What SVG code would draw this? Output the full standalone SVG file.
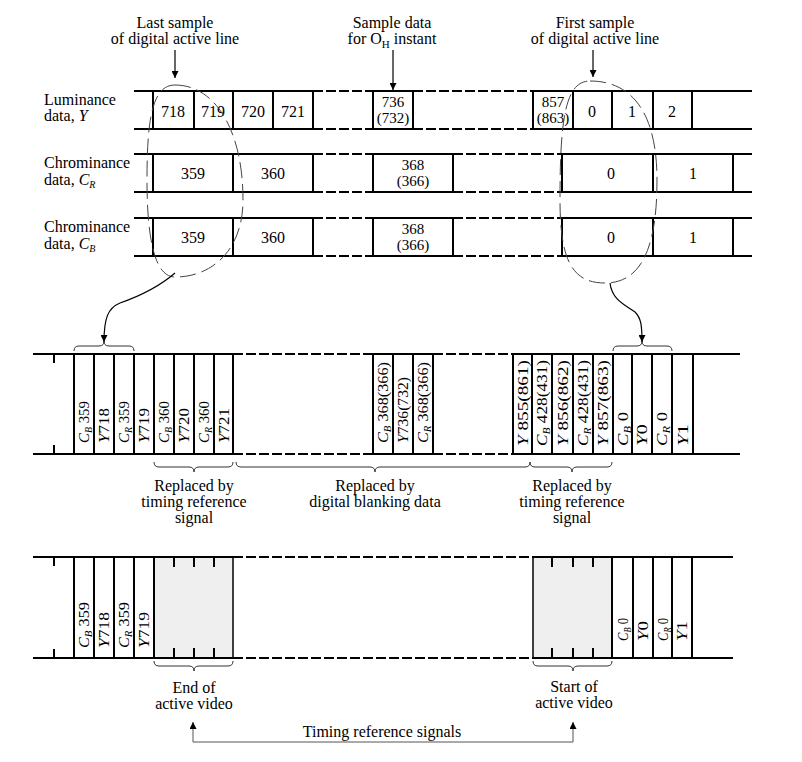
<svg xmlns="http://www.w3.org/2000/svg" width="802" height="762" viewBox="0 0 802 762">
<defs>
<style>
.ln{stroke:#000;stroke-width:2;fill:none}
.dl{stroke:#000;stroke-width:2;stroke-dasharray:10 3;fill:none}
.el{stroke:#444;stroke-width:1;stroke-dasharray:16 6;fill:none}
.br{stroke:#333;stroke-width:1;fill:none}
.cn{stroke:#000;stroke-width:1.2;fill:none}
.gl{stroke:#555;stroke-width:1;fill:none}
.t{font-family:"Liberation Serif","Times New Roman",serif;font-size:16px;fill:#000}
.c{text-anchor:middle}
.r{font-size:15px}
.n{font-size:15px}
.i{font-style:italic}
.s{font-size:10px;font-style:italic}
.box{fill:#efefef;stroke:#000;stroke-width:1.5}
</style>
<marker id="ah" viewBox="0 0 10 10" refX="10" refY="5" markerWidth="9" markerHeight="7" markerUnits="userSpaceOnUse" orient="auto">
<path d="M0,0 L10,5 L0,10 Z" fill="#000"/>
</marker>
</defs>
<rect width="802" height="762" fill="#fff"/>

<g id="labels-top">
<text class="t c" x="175" y="28">Last sample</text>
<text class="t c" x="175" y="44">of digital active line</text>
<text class="t c" x="392" y="28">Sample data</text>
<text class="t c" x="392" y="44">for O<tspan font-size="11" dy="4">H</tspan><tspan dy="-4"> instant</tspan></text>
<text class="t c" x="595" y="28">First sample</text>
<text class="t c" x="595" y="44">of digital active line</text>
</g>

<g id="row-y">
<text class="t" x="44" y="105">Luminance</text>
<text class="t" x="44" y="121">data, <tspan class="i">Y</tspan></text>
<path class="ln" d="M134,91 H313 M373,91 H413 M533,91 H752 M134,129 H313 M373,129 H413 M533,129 H752"/>
<path class="dl" d="M313,91 H373 M413,91 H533 M313,129 H373 M413,129 H533"/>
<path class="ln" d="M153,91 V129 M194,91 V129 M233,91 V129 M273,91 V129 M313,91 V129 M373,91 V129 M413,91 V129 M533,91 V129 M573,91 V129 M612,91 V129 M653,91 V129 M692,91 V129"/>
<text class="t c" x="173" y="117">718</text>
<text class="t c" x="213" y="117">719</text>
<text class="t c" x="253" y="117">720</text>
<text class="t c" x="293" y="117">721</text>
<text class="t c n" x="393" y="107">736</text>
<text class="t c n" x="393" y="123">(732)</text>
<text class="t c n" x="553" y="107">857</text>
<text class="t c n" x="553" y="123">(863)</text>
<text class="t c" x="592" y="117">0</text>
<text class="t c" x="632" y="117">1</text>
<text class="t c" x="672" y="117">2</text>
</g>

<g id="row-cr">
<text class="t" x="44" y="168">Chrominance</text>
<text class="t" x="44" y="185">data, <tspan class="i">C</tspan><tspan class="s" dy="3">R</tspan></text>
<path class="ln" d="M134,154 H313 M373,154 H453 M562,154 H752 M134,192 H313 M373,192 H453 M562,192 H752"/>
<path class="dl" d="M313,154 H373 M453,154 H562 M313,192 H373 M453,192 H562"/>
<path class="ln" d="M153,154 V192 M233,154 V192 M313,154 V192 M373,154 V192 M453,154 V192 M562,154 V192 M653,154 V192 M733,154 V192"/>
<text class="t c" x="193" y="179">359</text>
<text class="t c" x="273" y="179">360</text>
<text class="t c n" x="413" y="170">368</text>
<text class="t c n" x="413" y="186">(366)</text>
<text class="t c" x="611" y="179">0</text>
<text class="t c" x="693" y="179">1</text>
</g>

<g id="row-cb">
<text class="t" x="44" y="232">Chrominance</text>
<text class="t" x="44" y="249">data, <tspan class="i">C</tspan><tspan class="s" dy="3">B</tspan></text>
<path class="ln" d="M134,218 H313 M373,218 H453 M562,218 H752 M134,256 H313 M373,256 H453 M562,256 H752"/>
<path class="dl" d="M313,218 H373 M453,218 H562 M313,256 H373 M453,256 H562"/>
<path class="ln" d="M153,218 V256 M233,218 V256 M313,218 V256 M373,218 V256 M453,218 V256 M562,218 V256 M653,218 V256 M733,218 V256"/>
<text class="t c" x="193" y="243">359</text>
<text class="t c" x="273" y="243">360</text>
<text class="t c n" x="413" y="234">368</text>
<text class="t c n" x="413" y="250">(366)</text>
<text class="t c" x="611" y="243">0</text>
<text class="t c" x="693" y="243">1</text>
</g>

<g id="ellipses">
<path class="el" d="M175,85 C215,85 243,130 243,200 C243,250 212,277 175,277 C155,277 147,240 147,180 C147,120 152,85 175,85 Z"/>
<path class="el" d="M590,81 C630,81 657,110 657,180 C657,240 645,283 605,283 C572,283 560,260 560,200 C560,120 565,81 590,81 Z"/>
</g>

<g id="strip-mid">
<path class="ln" d="M33,354 H233 M373,354 H433 M513,354 H740 M33,454 H233 M373,454 H433 M513,454 H740"/>
<path class="dl" d="M233,354 H373 M433,354 H513 M233,454 H373 M433,454 H513"/>
<path class="ln" d="M54,354 V363 M54,445 V454 M74,354 V454 M94,354 V454 M114,354 V454 M134,354 V454 M154,354 V454 M174,354 V454 M194,354 V454 M214,354 V454 M233,354 V454 M373,354 V454 M393,354 V454 M413,354 V454 M433,354 V454 M513,354 V454 M532,354 V454 M552,354 V454 M573,354 V454 M593,354 V454 M613,354 V454 M632,354 V454 M652,354 V454 M672,354 V454 M693,354 V454"/>
<text class="t r" transform="translate(89,443) rotate(-90)" textLength="42" lengthAdjust="spacingAndGlyphs"><tspan class="i">C</tspan><tspan class="s" dy="3">B</tspan><tspan dy="-3"> 359</tspan></text>
<text class="t r" transform="translate(109,443) rotate(-90)" textLength="35" lengthAdjust="spacingAndGlyphs"><tspan class="i">Y</tspan>718</text>
<text class="t r" transform="translate(129,443) rotate(-90)" textLength="42" lengthAdjust="spacingAndGlyphs"><tspan class="i">C</tspan><tspan class="s" dy="3">R</tspan><tspan dy="-3"> 359</tspan></text>
<text class="t r" transform="translate(149,443) rotate(-90)" textLength="35" lengthAdjust="spacingAndGlyphs"><tspan class="i">Y</tspan>719</text>
<text class="t r" transform="translate(169,443) rotate(-90)" textLength="42" lengthAdjust="spacingAndGlyphs"><tspan class="i">C</tspan><tspan class="s" dy="3">B</tspan><tspan dy="-3"> 360</tspan></text>
<text class="t r" transform="translate(189,443) rotate(-90)" textLength="35" lengthAdjust="spacingAndGlyphs"><tspan class="i">Y</tspan>720</text>
<text class="t r" transform="translate(209,443) rotate(-90)" textLength="42" lengthAdjust="spacingAndGlyphs"><tspan class="i">C</tspan><tspan class="s" dy="3">R</tspan><tspan dy="-3"> 360</tspan></text>
<text class="t r" transform="translate(229,443) rotate(-90)" textLength="35" lengthAdjust="spacingAndGlyphs"><tspan class="i">Y</tspan>721</text>
<text class="t r" transform="translate(388,443) rotate(-90)" textLength="81" lengthAdjust="spacingAndGlyphs"><tspan class="i">C</tspan><tspan class="s" dy="3">B</tspan><tspan dy="-3"> 368(366)</tspan></text>
<text class="t r" transform="translate(408,443) rotate(-90)" textLength="66" lengthAdjust="spacingAndGlyphs"><tspan class="i">Y</tspan>736(732)</text>
<text class="t r" transform="translate(428,443) rotate(-90)" textLength="81" lengthAdjust="spacingAndGlyphs"><tspan class="i">C</tspan><tspan class="s" dy="3">R</tspan><tspan dy="-3"> 368(366)</tspan></text>
<text class="t r" transform="translate(527.5,446) rotate(-90)" textLength="86" lengthAdjust="spacingAndGlyphs"><tspan class="i">Y</tspan> 855(861)</text>
<text class="t r" transform="translate(547,446) rotate(-90)" textLength="86" lengthAdjust="spacingAndGlyphs"><tspan class="i">C</tspan><tspan class="s" dy="3">B</tspan><tspan dy="-3"> 428(431)</tspan></text>
<text class="t r" transform="translate(567.5,446) rotate(-90)" textLength="86" lengthAdjust="spacingAndGlyphs"><tspan class="i">Y</tspan> 856(862)</text>
<text class="t r" transform="translate(588,446) rotate(-90)" textLength="86" lengthAdjust="spacingAndGlyphs"><tspan class="i">C</tspan><tspan class="s" dy="3">R</tspan><tspan dy="-3"> 428(431)</tspan></text>
<text class="t r" transform="translate(608,446) rotate(-90)" textLength="86" lengthAdjust="spacingAndGlyphs"><tspan class="i">Y</tspan> 857(863)</text>
<text class="t r" transform="translate(627.5,446) rotate(-90)" textLength="34" lengthAdjust="spacingAndGlyphs"><tspan class="i">C</tspan><tspan class="s" dy="3">B</tspan><tspan dy="-3"> 0</tspan></text>
<text class="t r" transform="translate(647,446) rotate(-90)" textLength="22" lengthAdjust="spacingAndGlyphs"><tspan class="i">Y</tspan>0</text>
<text class="t r" transform="translate(667,446) rotate(-90)" textLength="34" lengthAdjust="spacingAndGlyphs"><tspan class="i">C</tspan><tspan class="s" dy="3">R</tspan><tspan dy="-3"> 0</tspan></text>
<text class="t r" transform="translate(687.5,446) rotate(-90)" textLength="22" lengthAdjust="spacingAndGlyphs"><tspan class="i">Y</tspan>1</text>
</g>

<g id="braces-mid">
<path class="br" d="M74,351 Q74,346 79,346 L99,346 Q104,346 104,341 Q104,346 109,346 L129,346 Q134,346 134,351"/>
<path class="br" d="M613,351 Q613,346 618,346 L637,346 Q642,346 642,341 Q642,346 647,346 L667,346 Q672,346 672,351"/>
<path class="br" d="M154,462 Q154,467 159,467 L189,467 Q194,467 194,472 Q194,467 199,467 L228,467 Q233,467 233,462"/>
<path class="br" d="M236,462 Q236,467 241,467 L370,467 Q375,467 375,472 Q375,467 380,467 L525,467 Q530,467 530,462"/>
<path class="br" d="M530,462 Q530,467 535,467 L567,467 Q572,467 572,472 Q572,467 577,467 L607,467 Q612,467 612,462"/>
<text class="t c" x="194" y="491">Replaced by</text>
<text class="t c" x="194" y="507">timing reference</text>
<text class="t c" x="194" y="523">signal</text>
<text class="t c" x="375" y="491">Replaced by</text>
<text class="t c" x="375" y="507">digital blanking data</text>
<text class="t c" x="572" y="491">Replaced by</text>
<text class="t c" x="572" y="507">timing reference</text>
<text class="t c" x="572" y="523">signal</text>
</g>

<g id="strip-bottom">
<rect class="box" x="154" y="557" width="79" height="101"/>
<rect class="box" x="533" y="557" width="79" height="101"/>
<path class="ln" d="M33,557 H233 M533,557 H733 M33,658 H233 M533,658 H733"/>
<path class="dl" d="M233,557 H533 M233,658 H533"/>
<path class="ln" d="M54,557 V566 M54,649 V658 M74,557 V658 M94,557 V658 M114,557 V658 M134,557 V658 M154,557 V658 M174,557 V567 M194,557 V567 M214,557 V567 M174,648 V658 M194,648 V658 M214,648 V658 M552,557 V567 M573,557 V567 M593,557 V567 M552,648 V658 M573,648 V658 M593,648 V658 M612,557 V658 M633,557 V658 M653,557 V658 M672,557 V658 M692,557 V658"/>
<text class="t r" transform="translate(89,648) rotate(-90)" textLength="46" lengthAdjust="spacingAndGlyphs"><tspan class="i">C</tspan><tspan class="s" dy="3">B</tspan><tspan dy="-3"> 359</tspan></text>
<text class="t r" transform="translate(109,648) rotate(-90)" textLength="36" lengthAdjust="spacingAndGlyphs"><tspan class="i">Y</tspan>718</text>
<text class="t r" transform="translate(129,648) rotate(-90)" textLength="46" lengthAdjust="spacingAndGlyphs"><tspan class="i">C</tspan><tspan class="s" dy="3">R</tspan><tspan dy="-3"> 359</tspan></text>
<text class="t r" transform="translate(149,648) rotate(-90)" textLength="36" lengthAdjust="spacingAndGlyphs"><tspan class="i">Y</tspan>719</text>
<text class="t r" transform="translate(627.5,641) rotate(-90)" textLength="23" lengthAdjust="spacingAndGlyphs"><tspan class="i">C</tspan><tspan class="s" dy="3">B</tspan><tspan dy="-3"> 0</tspan></text>
<text class="t r" transform="translate(648,641) rotate(-90)" textLength="20" lengthAdjust="spacingAndGlyphs"><tspan class="i">Y</tspan>0</text>
<text class="t r" transform="translate(667.5,641) rotate(-90)" textLength="23" lengthAdjust="spacingAndGlyphs"><tspan class="i">C</tspan><tspan class="s" dy="3">R</tspan><tspan dy="-3"> 0</tspan></text>
<text class="t r" transform="translate(687,641) rotate(-90)" textLength="20" lengthAdjust="spacingAndGlyphs"><tspan class="i">Y</tspan>1</text>
</g>

<g id="braces-bottom">
<path class="br" d="M154,661 Q154,666 159,666 L189,666 Q194,666 194,671 Q194,666 199,666 L228,666 Q233,666 233,661"/>
<path class="br" d="M533,661 Q533,666 538,666 L568,666 Q573,666 573,671 Q573,666 578,666 L607,666 Q612,666 612,661"/>
<text class="t c" x="194" y="693">End of</text>
<text class="t c" x="194" y="709">active video</text>
<text class="t c" x="574" y="692">Start of</text>
<text class="t c" x="574" y="708">active video</text>
<text class="t c" x="382" y="737">Timing reference signals</text>
</g>

<g id="connectors">
<path class="cn" d="M175,50 V78" marker-end="url(#ah)"/>
<path class="cn" d="M393,50 V90" marker-end="url(#ah)"/>
<path class="cn" d="M593,50 V77" marker-end="url(#ah)"/>
<path class="cn" d="M175,273 C160,286 140,296 120,303 C108,308 104,318 104,342" marker-end="url(#ah)"/>
<path class="cn" d="M610,283 C612,300 625,305 635,312 C641,318 642,325 642,342" marker-end="url(#ah)"/>
<path class="gl" d="M193,742 H573"/>
<path class="gl" d="M193,742 V722" marker-end="url(#ah)"/>
<path class="gl" d="M573,742 V722" marker-end="url(#ah)"/>
</g>
</svg>
